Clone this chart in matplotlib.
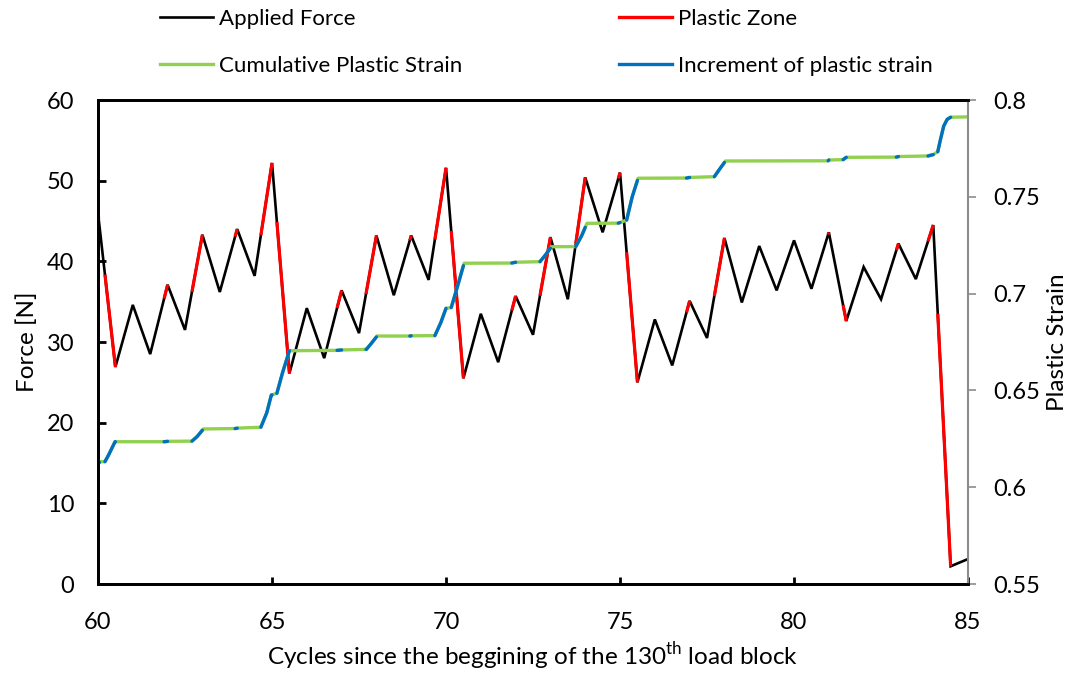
import numpy as np
import matplotlib.pyplot as plt
from matplotlib.lines import Line2D

plt.rcParams["font.family"] = ["Lato", "DejaVu Sans"]
plt.rcParams["mathtext.fontset"] = "custom"
plt.rcParams["mathtext.rm"] = "Lato"

# applied force, one value every half cycle
cycles = np.arange(60, 85.01, 0.5)
force = [46.0, 26.9, 34.6, 28.5, 37.1, 31.5, 43.3, 36.2, 44.0, 38.2,
         52.2, 26.1, 34.2, 28.0, 36.4, 31.1, 43.2, 35.8, 43.2, 37.7,
         51.6, 25.5, 33.5, 27.5, 35.7, 30.9, 43.0, 35.3, 50.4, 43.6,
         51.0, 25.0, 32.8, 27.1, 35.1, 30.5, 42.9, 34.9, 41.9, 36.4,
         42.6, 36.6, 43.6, 32.6, 39.3, 35.3, 42.2, 37.8, 44.5, 2.2, 3.1]

# cumulative plastic strain
strain_x = [60.0, 60.2, 60.3, 60.49, 61.9, 62.0, 62.7, 62.85, 63.03, 63.94, 64.0,
            64.68, 64.85, 64.98, 65.14, 65.3, 65.5, 66.87, 67.0, 67.71, 67.85, 68.02,
            68.96, 69.0, 69.68, 69.85, 70.0, 70.15, 70.35, 70.52, 71.89, 72.0, 72.7,
            72.85, 73.03, 73.73, 73.9, 74.05, 74.95, 75.0, 75.19, 75.35, 75.52, 76.91,
            77.0, 77.71, 77.85, 78.03, 80.98, 81.0, 81.41, 81.5, 82.94, 83.0, 83.85,
            84.0, 84.13, 84.2, 84.3, 84.4, 84.5, 85.0]
strain_y = [0.6132, 0.6132, 0.6165, 0.6235, 0.6235, 0.6237, 0.6238, 0.6262, 0.6301, 0.6303, 0.6305,
            0.6310, 0.6385, 0.6476, 0.6485, 0.6590, 0.6705, 0.6707, 0.6709, 0.6712, 0.6742, 0.6781,
            0.6781, 0.6782, 0.6783, 0.6850, 0.6924, 0.6928, 0.7050, 0.7157, 0.7158, 0.7162, 0.7165,
            0.7198, 0.7242, 0.7243, 0.7300, 0.7363, 0.7364, 0.7367, 0.7380, 0.7500, 0.7596, 0.7597,
            0.7600, 0.7604, 0.7640, 0.7685, 0.7686, 0.7690, 0.7692, 0.7704, 0.7705, 0.7708, 0.7711,
            0.7718, 0.7733, 0.7790, 0.7865, 0.7900, 0.7911, 0.7913]

# cycle intervals inside the plastic zone
plastic_zones = [(60.0, 60.02), (60.2, 60.5), (61.9, 62.0), (62.7, 63.0), (63.94, 64.0),
                 (64.68, 65.0), (65.14, 65.5), (66.87, 67.0), (67.7, 68.0), (68.96, 69.0),
                 (69.68, 70.0), (70.15, 70.5), (71.89, 72.0), (72.7, 73.0), (73.73, 74.0),
                 (74.95, 75.0), (75.19, 75.5), (76.91, 77.0), (77.71, 78.0), (80.98, 81.0),
                 (81.41, 81.5), (82.94, 83.0), (83.85, 84.0), (84.13, 84.5)]


def piece(x, y, x0, x1):
    x = np.asarray(x)
    xs = np.concatenate(([x0], x[(x > x0) & (x < x1)], [x1]))
    return xs, np.interp(xs, x, y)


BLACK, RED, GREEN, BLUE = "#000000", "#FF0000", "#92D050", "#0070C0"

fig, ax = plt.subplots(figsize=(10.78, 6.73), dpi=100)
fig.subplots_adjust(left=0.0909, right=0.898, top=0.8514, bottom=0.1322)
ax2 = ax.twinx()

ax.plot(cycles, force, color=BLACK, lw=1.9, solid_joinstyle="miter")
for x0, x1 in plastic_zones:
    xs, ys = piece(cycles, force, x0, x1)
    ax.plot(xs, ys, color=RED, lw=2.3, solid_capstyle="butt")

ax2.plot(strain_x, strain_y, color=GREEN, lw=2.4)
for x0, x1 in plastic_zones:
    xs, ys = piece(strain_x, strain_y, x0, x1)
    ax2.plot(xs, ys, color=BLUE, lw=2.4, solid_capstyle="round")

ax.set_xlim(60, 85)
ax.set_ylim(0, 60)
ax2.set_ylim(0.55, 0.8)
ax.set_xticks(np.arange(60, 86, 5))
ax.set_yticks(np.arange(0, 61, 10))
ax2.set_yticks([0.55, 0.6, 0.65, 0.7, 0.75, 0.8])
ax2.set_yticklabels(["0.55", "0.6", "0.65", "0.7", "0.75", "0.8"])

for s in ["left", "bottom", "top"]:
    ax.spines[s].set_linewidth(2)
    ax2.spines[s].set_linewidth(2)
ax2.spines["right"].set_color("#8C8C8C")
ax2.spines["right"].set_linewidth(1.5)
ax.spines["right"].set_visible(False)

ax.tick_params(axis="x", direction="in", length=5, width=2, pad=20, labelsize=17)
ax.tick_params(axis="y", direction="in", length=6, width=2, pad=17, labelsize=17)
ax2.tick_params(axis="y", direction="out", length=6, width=1.2, color="#8C8C8C",
                pad=12, labelsize=17)

ax.set_xlabel("Cycles since the beggining of the 130$^{\\rm th}$ load block", fontsize=17.5, labelpad=5)
ax.set_ylabel("Force [N]", fontsize=17.5, labelpad=6)
ax2.set_ylabel("Plastic Strain", fontsize=17.5, labelpad=5)

handles = [Line2D([], [], color=BLACK, lw=1.9), Line2D([], [], color=GREEN, lw=2.4),
           Line2D([], [], color=RED, lw=2.4), Line2D([], [], color=BLUE, lw=2.4)]
labels = ["Applied Force", "Cumulative Plastic Strain", "Plastic Zone", "Increment of plastic strain"]
fig.legend(handles, labels, ncol=2, loc="upper left", bbox_to_anchor=(160 / 1078, 1 - 9 / 673),
           frameon=False, fontsize=16, handlelength=2.4, handletextpad=0.25,
           columnspacing=7.05, labelspacing=1.22, borderpad=0, borderaxespad=0)

fig.savefig("out.png", dpi=100)
